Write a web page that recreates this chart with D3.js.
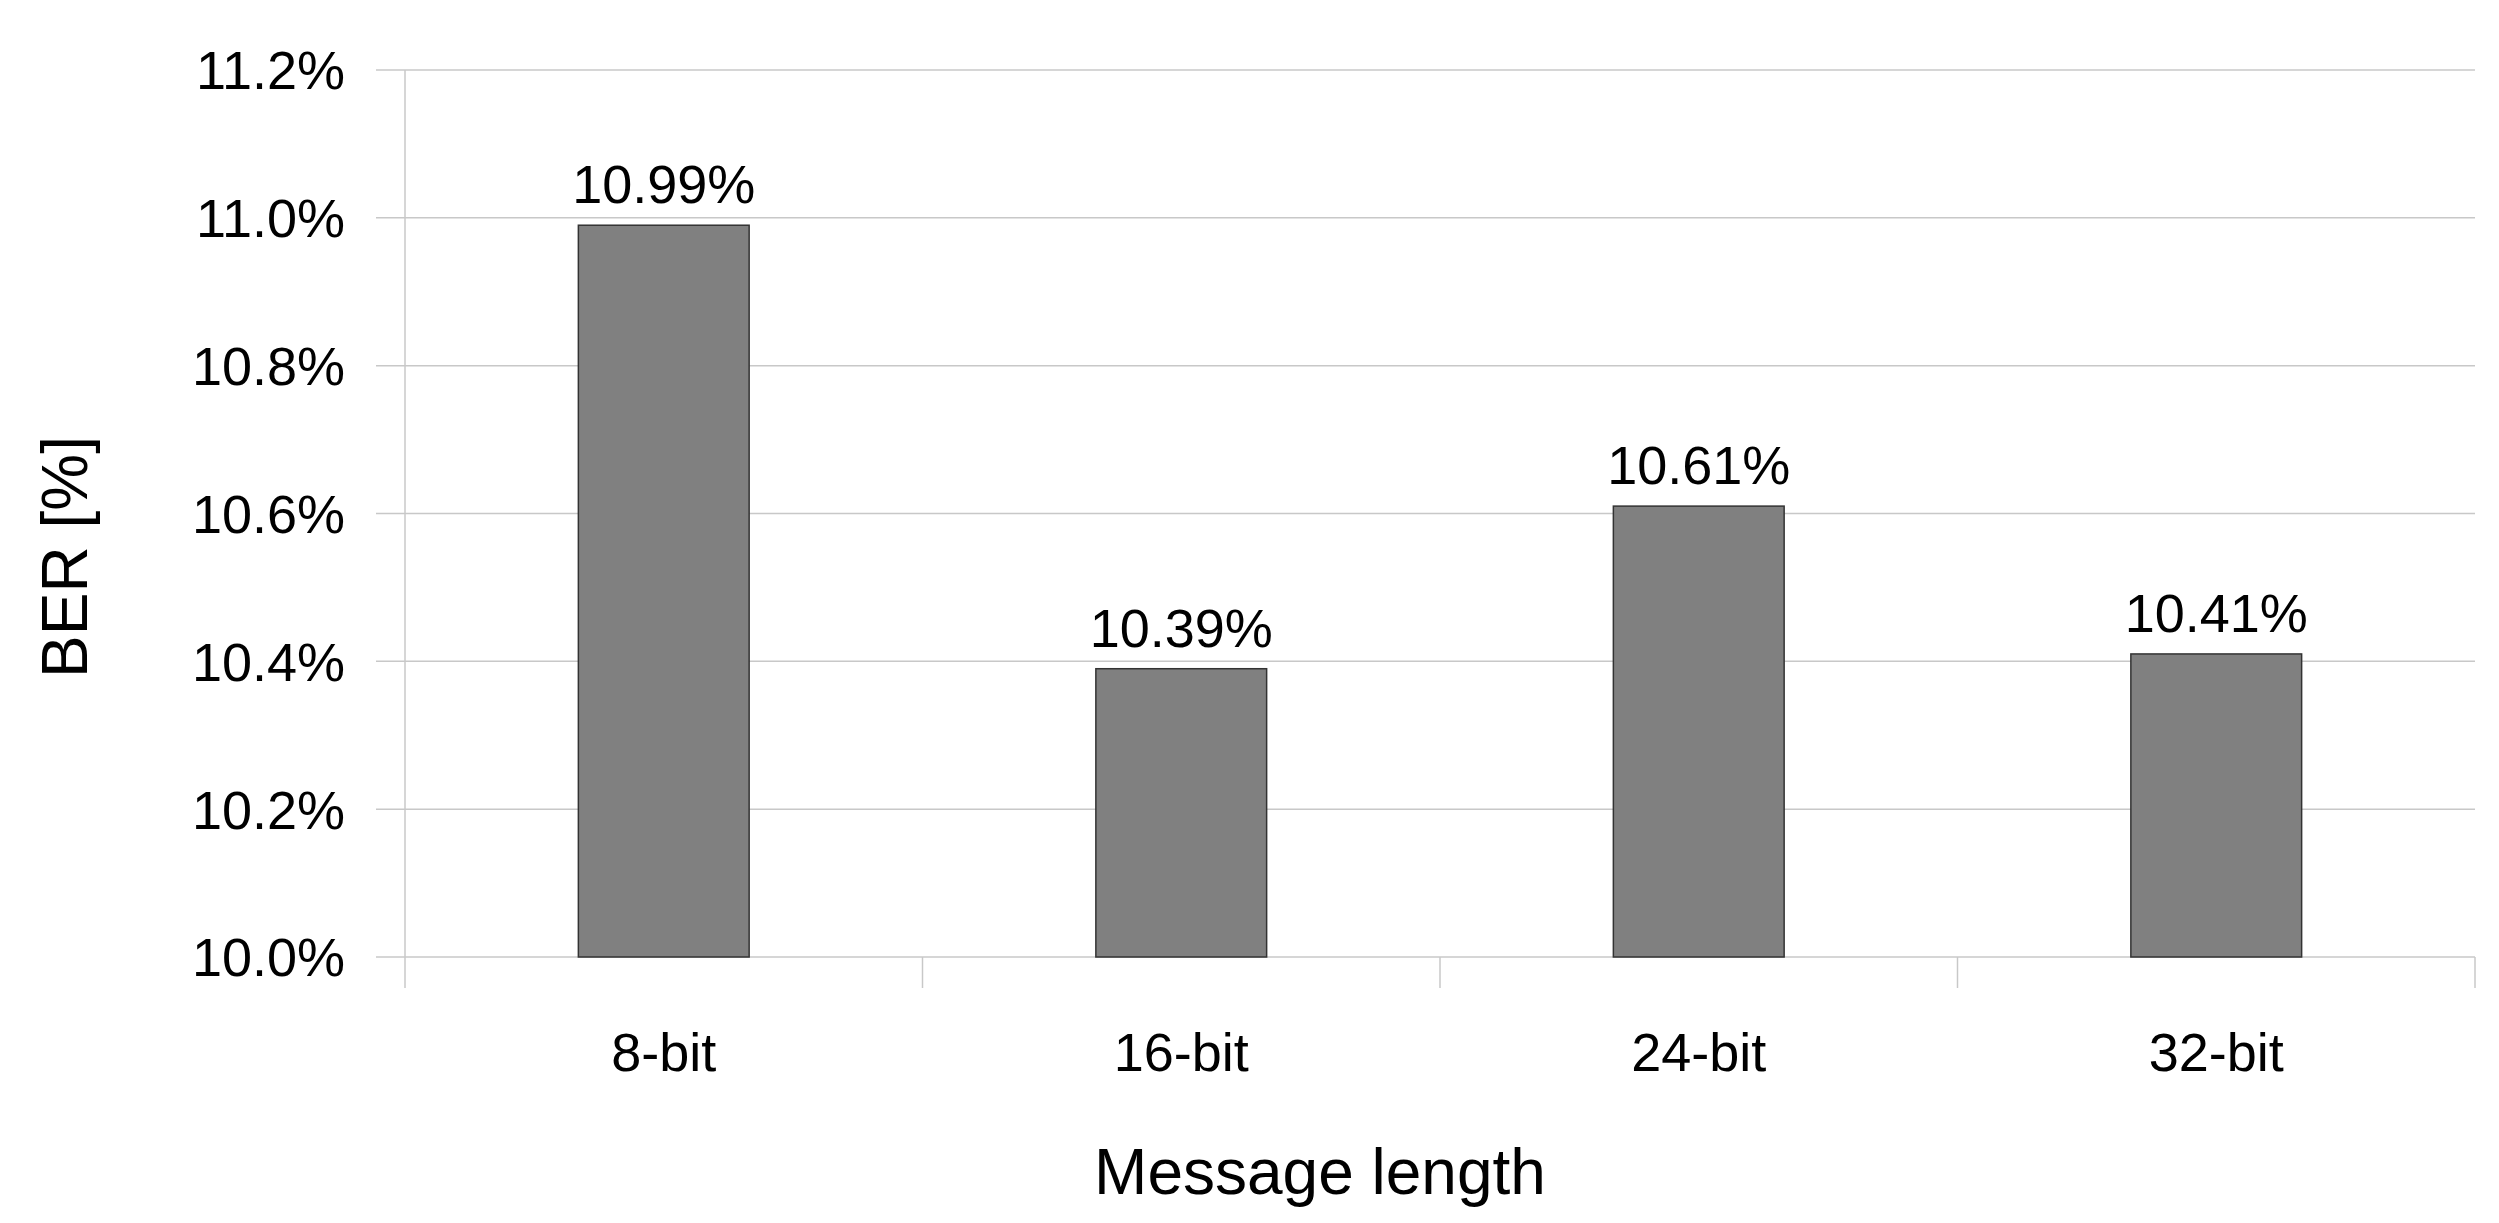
<!DOCTYPE html><html><head><script src="https://cdn.jsdelivr.net/npm/d3@7"></script>
<style>body{margin:0;background:#fff}text{font-family:"Liberation Sans",Arial,sans-serif;fill:#000}</style></head><body><svg id="c" width="2499" height="1223"></svg>
<script>
const categories=["8-bit","16-bit","24-bit","32-bit"];
const values=[10.99,10.39,10.61,10.41];
const yTicks=[10.0,10.2,10.4,10.6,10.8,11.0,11.2];
const svg=d3.select("#c");
const L=405,R=2475,T=70,B=957;
const x=d3.scaleBand().domain(categories).range([L,R]);
const y=d3.scaleLinear().domain([10,11.2]).range([B,T]);
const g=svg.append("g");
yTicks.forEach(t=>{g.append("line").attr("x1",376).attr("x2",R).attr("y1",y(t)).attr("y2",y(t)).attr("stroke","#c8c8c8").attr("stroke-width",1.5);
g.append("text").attr("x",345).attr("y",y(t)).attr("dy","0.36em").attr("text-anchor","end").attr("font-size",54).text(t.toFixed(1)+"%");});
g.append("line").attr("x1",L).attr("x2",L).attr("y1",T).attr("y2",988).attr("stroke","#c8c8c8").attr("stroke-width",1.5);
categories.forEach(c=>{g.append("line").attr("x1",x(c)+x.bandwidth()).attr("x2",x(c)+x.bandwidth()).attr("y1",B).attr("y2",988).attr("stroke","#c8c8c8").attr("stroke-width",1.5);});
const bw=x.bandwidth()*0.33;
categories.forEach((c,i)=>{const cx=x(c)+x.bandwidth()/2;
g.append("rect").attr("x",cx-bw/2).attr("width",bw).attr("y",y(values[i])).attr("height",B-y(values[i])).attr("fill","#808080").attr("stroke","#333").attr("stroke-width",1.5);
g.append("text").attr("x",cx).attr("y",y(values[i])-22).attr("text-anchor","middle").attr("font-size",54).text(values[i].toFixed(2)+"%");
g.append("text").attr("x",cx).attr("y",1052).attr("dy","0.36em").attr("text-anchor","middle").attr("font-size",54).text(c);});
svg.append("text").attr("x",1320).attr("y",1171).attr("dy","0.36em").attr("text-anchor","middle").attr("font-size",64).text("Message length");
svg.append("text").attr("transform","translate(64,557) rotate(-90)").attr("dy","0.36em").attr("text-anchor","middle").attr("font-size",64).text("BER [%]");
</script></body></html>
